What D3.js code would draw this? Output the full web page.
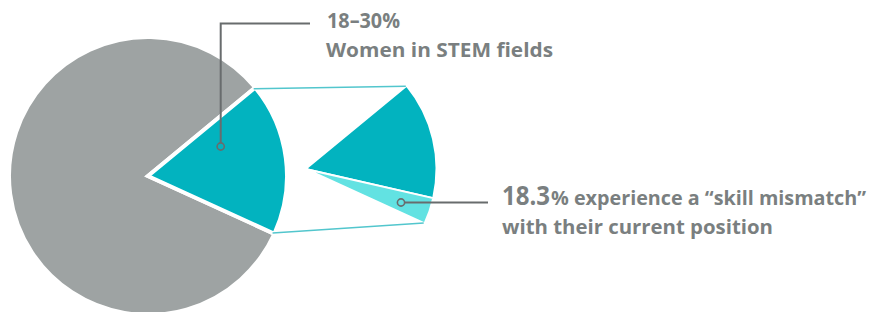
<!DOCTYPE html>
<html><head><meta charset="utf-8">
<script src="https://cdn.jsdelivr.net/npm/d3@7"></script>
<style>html,body{margin:0;padding:0;background:#fff;}svg{display:block;}</style>
</head><body>
<svg id="chart" width="890" height="312"></svg>
<script>
// ---- data ----
const categories = ["Women in STEM fields", "Others"];
const shares = [17.8, 82.2];
const subCategories = ["Matched", "Skill mismatch"];
const subShares = [81.7, 18.3];
const headline = ["18–30%", "Women in STEM fields"];
const mismatchValue = "18.3";
const mismatchText = ["% experience a “skill mismatch”", "with their current position"];
const startDeg = 50.5;

// ---- styles ----
const grey = "#9ea3a3", teal = "#02b3bf", lightTeal = "#62e2e2";
const textCol = "#7a7f80", leaderCol = "#686c6d", linkCol = "#52c6cd";

const svg = d3.select("#chart");
const toRad = d => d * Math.PI / 180;
const a0 = toRad(startDeg);

// main pie
const mainC = [148, 176], mainR = 139;
const mainPie = d3.pie().sort(null).value(d => d).startAngle(a0).endAngle(a0 + 2 * Math.PI);
const mainArcs = mainPie(shares);
const mainArc = d3.arc().innerRadius(0).outerRadius(mainR);
const gMain = svg.append("g").attr("transform", `translate(${mainC})`);
gMain.selectAll("path").data([mainArcs[1], mainArcs[0]]).join("path")
  .attr("d", mainArc)
  .attr("fill", (d) => d.index === 0 ? teal : grey)
  .attr("stroke", "#fff").attr("stroke-width", 4).attr("stroke-linejoin", "miter");

// zoom pie
const women = mainArcs[0];
const subC = [305.5, 169], subR = 131;
const subPie = d3.pie().sort(null).value(d => d).startAngle(women.startAngle).endAngle(women.endAngle);
const subArcs = subPie(subShares);
const subArc = d3.arc().innerRadius(0).outerRadius(subR);
const gSub = svg.append("g").attr("transform", `translate(${subC})`);
gSub.selectAll("path").data(subArcs).join("path")
  .attr("d", subArc)
  .attr("fill", (d, i) => i === 0 ? teal : lightTeal)
  .attr("stroke", "#fff").attr("stroke-width", 2);

// connectors
const pt = (c, r, a) => [c[0] + r * Math.sin(a), c[1] - r * Math.cos(a)];
[women.startAngle, women.endAngle].forEach(a => {
  const p1 = pt(mainC, mainR - 2, a), p2 = pt(subC, subR - 1, a);
  svg.append("line").attr("x1", p1[0]).attr("y1", p1[1]).attr("x2", p2[0]).attr("y2", p2[1])
    .attr("stroke", linkCol).attr("stroke-width", 1.5);
});

// leader 1
const l1 = [220.7, 146.5];
svg.append("path").attr("d", `M${l1[0]},${l1[1] - 4}V23.5H310`)
  .attr("fill", "none").attr("stroke", leaderCol).attr("stroke-width", 2);
svg.append("circle").attr("cx", l1[0]).attr("cy", l1[1]).attr("r", 3.6)
  .attr("fill", "none").attr("stroke", leaderCol).attr("stroke-width", 1.6);

// leader 2
const l2 = [401, 202.5];
svg.append("path").attr("d", `M${l2[0] + 4},${l2[1]}H488`)
  .attr("fill", "none").attr("stroke", leaderCol).attr("stroke-width", 2);
svg.append("circle").attr("cx", l2[0]).attr("cy", l2[1]).attr("r", 3.6)
  .attr("fill", "none").attr("stroke", leaderCol).attr("stroke-width", 1.6);

// texts
const font = "'Open Sans', Lato, sans-serif";
const txt = (x, y, size, s, len) => svg.append("text").attr("x", x).attr("y", y)
  .attr("font-family", font).attr("font-weight", 700).attr("font-size", size)
  .attr("fill", textCol).attr("textLength", len).attr("lengthAdjust", "spacingAndGlyphs").text(s);
txt(327, 27.5, 21, headline[0], 73);
txt(326, 57, 20, headline[1], 227);

const t2 = svg.append("text").attr("y", 204.5).attr("font-family", font)
  .attr("font-weight", 700).attr("fill", textCol);
t2.append("tspan").attr("x", 502).attr("font-size", 27).attr("textLength", 48)
  .attr("lengthAdjust", "spacingAndGlyphs").text(mismatchValue);
t2.append("tspan").attr("x", 551).attr("font-size", 19).attr("textLength", 315)
  .attr("lengthAdjust", "spacingAndGlyphs").text(mismatchText[0]);
txt(502, 234, 19, mismatchText[1], 271);
</script>
</body></html>
